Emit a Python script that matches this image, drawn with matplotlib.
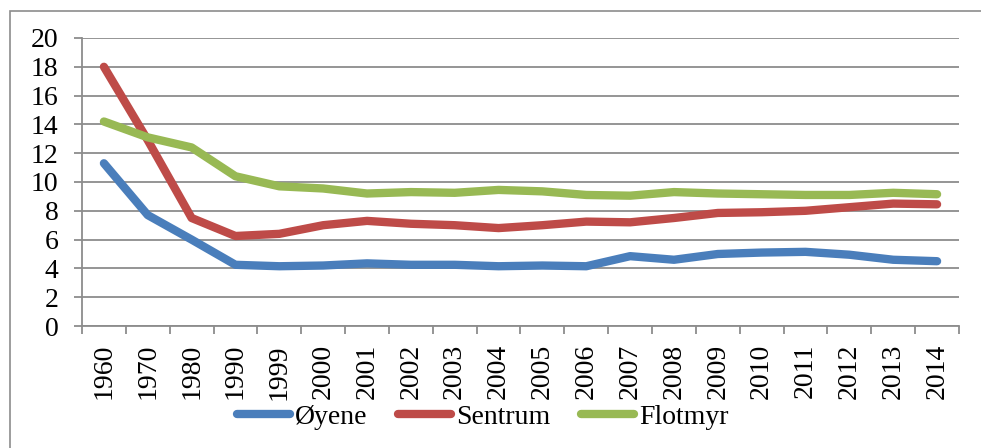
import numpy as np
import matplotlib.pyplot as plt
from matplotlib.patches import Rectangle
from matplotlib.ticker import MultipleLocator

years = ["1960", "1970", "1980", "1990", "1999", "2000", "2001", "2002", "2003", "2004",
         "2005", "2006", "2007", "2008", "2009", "2010", "2011", "2012", "2013", "2014"]
oyene = [11.3, 7.7, 6.0, 4.25, 4.15, 4.2, 4.35, 4.25, 4.25, 4.15,
         4.2, 4.15, 4.85, 4.6, 5.0, 5.1, 5.15, 4.95, 4.6, 4.5]
sentrum = [18.0, 12.9, 7.5, 6.25, 6.4, 7.0, 7.3, 7.1, 7.0, 6.8,
           7.0, 7.25, 7.2, 7.5, 7.85, 7.9, 8.0, 8.25, 8.5, 8.45]
flotmyr = [14.2, 13.1, 12.4, 10.4, 9.7, 9.55, 9.2, 9.3, 9.25, 9.45,
           9.35, 9.1, 9.05, 9.3, 9.2, 9.15, 9.1, 9.1, 9.25, 9.15]

plt.rcParams['font.family'] = ['Liberation Serif', 'DejaVu Serif']
fs = 20

W, H = 981, 448
fig = plt.figure(figsize=(W / 100, H / 100), dpi=100)
fig.patches.append(Rectangle((10 / W, -0.1), 1.2, 1 - 11 / H + 0.1, transform=fig.transFigure,
                             fill=False, edgecolor="#8c8c8c", linewidth=1.2))

ax = fig.add_axes([82 / W, 1 - 326 / H, (959 - 82) / W, (326 - 38) / H])
x = np.arange(len(years))
lw = 6
ax.plot(x, oyene, color="#4a7ebb", lw=lw, solid_capstyle="round", solid_joinstyle="round", label="Øyene")
ax.plot(x, sentrum, color="#be4b48", lw=lw, solid_capstyle="round", solid_joinstyle="round", label="Sentrum")
ax.plot(x, flotmyr, color="#98b954", lw=lw, solid_capstyle="round", solid_joinstyle="round", label="Flotmyr")

ax.set_xlim(-0.5, len(years) - 0.5)
ax.set_ylim(0, 20)
ax.yaxis.set_major_locator(MultipleLocator(2))
ax.grid(axis="y", color="#8c8c8c", lw=1.3)
ax.set_axisbelow(True)
for s in ["top", "right"]:
    ax.spines[s].set_visible(False)
for s in ["left", "bottom"]:
    ax.spines[s].set_color("#8c8c8c")
    ax.spines[s].set_linewidth(1.3)

ax.set_xticks(x)
ax.set_xticklabels(years, rotation=90, fontsize=fs)
ax.set_xticks(np.arange(-0.5, len(years), 1), minor=True)
ax.tick_params(axis="x", which="major", length=0, pad=13)
ax.tick_params(axis="x", which="minor", length=6, width=1.3, color="#8c8c8c")
ax.tick_params(axis="y", length=6, width=1.3, color="#8c8c8c", labelsize=fs, pad=11)

fig.legend(loc="center", bbox_to_anchor=(483 / W, 1 - 417 / H), ncol=3, frameon=False,
           fontsize=fs, handlelength=1.9, columnspacing=1.1, handletextpad=0.2,
           borderpad=0, borderaxespad=0)

fig.savefig("out.png", dpi=100)
